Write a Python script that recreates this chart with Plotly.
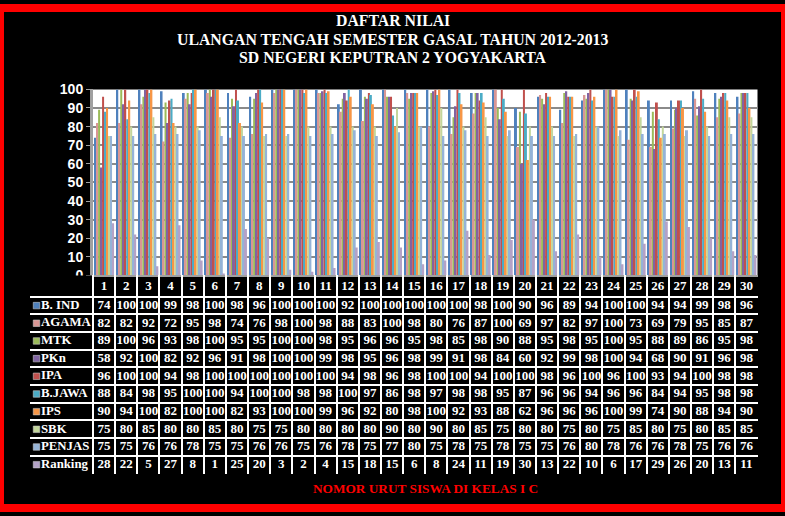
import plotly.graph_objects as go

students = list(range(1, 31))

series_names = ["B. IND", "AGAMA", "MTK", "PKn", "IPA", "B.JAWA", "IPS", "SBK", "PENJAS", "Ranking"]

b_ind = [74, 100, 100, 99, 98, 100, 98, 96, 100, 100, 100, 92, 100, 100, 100, 100, 100, 98, 100, 90, 96, 89, 94, 100, 100, 94, 94, 99, 98, 96]
agama = [82, 82, 92, 72, 95, 98, 74, 76, 98, 100, 98, 88, 83, 100, 98, 80, 76, 87, 100, 69, 97, 82, 97, 100, 73, 69, 79, 95, 85, 87]
mtk = [89, 100, 96, 93, 98, 100, 95, 95, 100, 100, 98, 95, 96, 96, 95, 98, 85, 98, 90, 88, 95, 98, 95, 100, 95, 88, 89, 86, 95, 98]
pkn = [58, 92, 100, 82, 92, 96, 91, 98, 100, 100, 99, 98, 95, 96, 98, 99, 91, 98, 84, 60, 92, 99, 98, 100, 94, 68, 90, 91, 96, 98]
ipa = [96, 100, 100, 94, 98, 100, 100, 100, 100, 100, 100, 94, 98, 96, 98, 100, 100, 94, 100, 100, 98, 96, 100, 96, 100, 93, 94, 100, 98, 98]
b_jawa = [88, 84, 98, 95, 100, 100, 94, 100, 100, 98, 98, 100, 97, 86, 98, 97, 98, 98, 95, 87, 96, 96, 94, 96, 96, 84, 94, 95, 98, 98]
ips = [90, 94, 100, 82, 100, 100, 82, 93, 100, 100, 99, 96, 92, 80, 98, 100, 92, 93, 88, 62, 96, 96, 96, 100, 99, 74, 90, 88, 94, 90]
sbk = [75, 80, 85, 80, 80, 85, 80, 75, 75, 80, 80, 80, 80, 90, 80, 90, 80, 85, 75, 80, 80, 75, 80, 75, 85, 80, 75, 80, 85, 85]
penjas = [75, 75, 76, 76, 78, 75, 75, 76, 76, 75, 76, 78, 75, 77, 80, 75, 78, 75, 78, 75, 75, 76, 80, 78, 76, 76, 78, 75, 76, 76]
ranking = [28, 22, 5, 27, 8, 1, 25, 20, 3, 2, 4, 15, 18, 15, 6, 8, 24, 11, 19, 30, 13, 22, 10, 6, 17, 29, 26, 20, 13, 11]

series_values = [b_ind, agama, mtk, pkn, ipa, b_jawa, ips, sbk, penjas, ranking]
colors = ["#4F81BD", "#D99694", "#9BBB59", "#8064A2", "#C0504D",
          "#4BACC6", "#F79646", "#C3D69B", "#95B3D7", "#B3A2C7"]

title_lines = ["DAFTAR NILAI",
               "ULANGAN TENGAH SEMESTER GASAL TAHUN 2012-2013",
               "SD NEGERI KEPUTRAN 2 YOGYAKARTA"]
x_title = "NOMOR URUT SISWA DI KELAS I C"

# ---------------- geometry (pixels) ----------------
W, H = 785, 516
px_x = lambda v: v / W
px_y = lambda v: 1 - v / H

PLOT_L, PLOT_R, PLOT_T, PLOT_B = 93, 757.5, 84, 276
COL_W = (PLOT_R - PLOT_L) / len(students)
TABLE_L = 30
HEAD_H, ROW_H = 22, 18.24
TABLE_T = PLOT_B
TABLE_H = HEAD_H + ROW_H * len(series_names)
X_LEFT = 0.5 - (PLOT_L - TABLE_L) / COL_W          # table's left edge in column units

fig = go.Figure()
for name, vals, col in zip(series_names, series_values, colors):
    fig.add_trace(go.Bar(x=students, y=vals, name=name, marker=dict(color=col, line=dict(width=0)),
                         showlegend=False))

tfont = dict(family="Liberation Serif", size=13, color="white", weight="bold")

# header row: student numbers
fig.add_trace(go.Scatter(x=students, y=[HEAD_H / 2 + 1] * len(students), text=[str(s) for s in students],
                         mode="text", textfont=tfont, xaxis="x2", yaxis="y2",
                         showlegend=False, hoverinfo="skip"))

# table body values
row_centers = [HEAD_H + ROW_H * (r + 0.5) for r in range(len(series_names))]
cell_x, cell_y, cell_t = [], [], []
for r, vals in enumerate(series_values):
    for s, v in zip(students, vals):
        cell_x.append(s)
        cell_y.append(row_centers[r])
        cell_t.append(str(v))
fig.add_trace(go.Scatter(x=cell_x, y=cell_y, text=cell_t, mode="text", textfont=tfont,
                         xaxis="x2", yaxis="y2", showlegend=False, hoverinfo="skip"))

# row labels with legend keys
fig.add_trace(go.Scatter(x=[X_LEFT + 11 / COL_W] * len(series_names), y=row_centers, text=series_names,
                         mode="text", textposition="middle right",
                         textfont=dict(family="Liberation Serif", size=12.8, color="white", weight="bold"),
                         xaxis="x2", yaxis="y2", showlegend=False, hoverinfo="skip"))
fig.add_trace(go.Scatter(x=[X_LEFT + 6.5 / COL_W] * len(series_names), y=row_centers, mode="markers",
                         marker=dict(symbol="square", size=6.5, color=colors,
                                     line=dict(color="#C8C8C8", width=0.6)),
                         xaxis="x2", yaxis="y2", showlegend=False, hoverinfo="skip"))

grid_x = [s + 0.5 for s in [0] + students]
grid_y = [HEAD_H + ROW_H * r for r in range(len(series_names) + 1)]

fig.update_layout(
    width=W, height=H,
    paper_bgcolor="black",
    plot_bgcolor="rgba(0,0,0,0)",
    margin=dict(l=0, r=0, t=0, b=0),
    barmode="group",
    bargap=0.1,
    bargroupgap=0,
    xaxis=dict(domain=[px_x(PLOT_L), px_x(PLOT_R)], range=[0.5, 30.5], showticklabels=False,
               showgrid=False, showline=True, linecolor="#A0A0A0", linewidth=2,
               ticks="", zeroline=False),
    yaxis=dict(domain=[px_y(PLOT_B), px_y(PLOT_T)], range=[0, 100], dtick=10,
               showgrid=True, gridcolor="#8A8A8A", gridwidth=1.5,
               showline=True, linecolor="#A0A0A0", linewidth=3,
               ticks="outside", tickcolor="#A0A0A0", ticklen=4,
               tickfont=dict(family="Liberation Sans", size=14, color="white", weight="bold"),
               zeroline=False),
    xaxis2=dict(domain=[px_x(TABLE_L), px_x(PLOT_R)], range=[X_LEFT, 30.5],
                tickmode="array", tickvals=grid_x, showticklabels=False, ticks="",
                showgrid=True, gridcolor="white", gridwidth=1.5, zeroline=False,
                showline=False, fixedrange=True),
    yaxis2=dict(domain=[px_y(TABLE_T + TABLE_H), px_y(TABLE_T)], range=[TABLE_H, 0],
                tickmode="array", tickvals=grid_y, showticklabels=False, ticks="",
                showgrid=True, gridcolor="white", gridwidth=1.5, zeroline=False,
                showline=False, fixedrange=True),
    annotations=[
        dict(text=f"<b>{t}</b>", xref="paper", yref="paper",
             x=0.5, y=px_y(yy), xanchor="center", yanchor="middle", showarrow=False,
             font=dict(family="Liberation Serif", size=15.8, color="white"))
        for t, yy in zip(title_lines, [13, 32, 51])
    ] + [
        dict(text=f"<b>{x_title}</b>", xref="paper", yref="paper",
             x=px_x(425), y=px_y(496), xanchor="center", yanchor="middle", showarrow=False,
             font=dict(family="Liberation Serif", size=13.3, color="#FF0000")),
    ],
    shapes=[
        dict(type="rect", xref="x domain", yref="y domain", x0=0, x1=1, y0=0, y1=1,
             fillcolor="white", line=dict(width=0), layer="below"),
        dict(type="rect", xref="paper", yref="paper", x0=px_x(TABLE_L - 1), x1=px_x(PLOT_L - 1),
             y0=px_y(TABLE_T + HEAD_H - 1), y1=px_y(TABLE_T), fillcolor="black",
             line=dict(width=0), layer="above"),
        dict(type="rect", xref="paper", yref="paper", x0=0, x1=1, y0=0, y1=1,
             line=dict(color="#FF0000", width=8), layer="above"),
    ],
)

fig.write_html("out.html", config={"displayModeBar": False},
               post_script="document.body.style.margin='0px';document.body.style.overflow='hidden';")
